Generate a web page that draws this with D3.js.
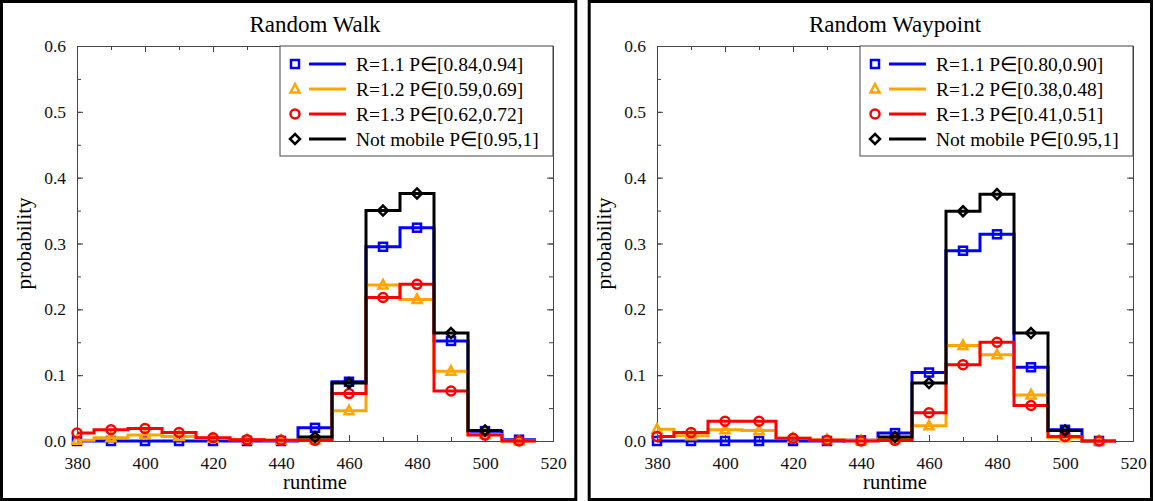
<!DOCTYPE html>
<html>
<head>
<meta charset="utf-8">
<script src="https://cdn.jsdelivr.net/npm/d3@7"></script>
<style>
  body { margin: 0; background: #fff; }
  svg { display: block; font-family: "Liberation Serif", "Times New Roman", serif; }
  .axis path, .axis line { stroke: #444; }
  .axis text { font-family: "Liberation Serif", serif; font-size: 17.5px; fill: #111; }
</style>
</head>
<body>
<svg id="chart" width="1156" height="501"></svg>
<script>
// bins (runtime), centres of 10-wide bins
const bins = [380, 390, 400, 410, 420, 430, 440, 450, 460, 470, 480, 490, 500, 510];

// Random Walk
const walk_r11 = [0, 0, 0, 0, 0, 0, 0, 0.020, 0.090, 0.295, 0.324, 0.152, 0.015, 0.002];
const walk_r12 = [0.001, 0.005, 0.009, 0.007, 0.004, 0.002, 0.001, 0.002, 0.046, 0.237, 0.215, 0.106, 0.010, 0.000];
const walk_r13 = [0.012, 0.017, 0.019, 0.013, 0.005, 0.002, 0.001, 0.001, 0.072, 0.218, 0.238, 0.076, 0.009, 0.000];
const walk_nm  = [null, null, null, null, null, null, null, 0.006, 0.088, 0.350, 0.376, 0.164, 0.016, null];

// Random Waypoint
const wayp_r11 = [0, 0, 0, 0, 0, 0, 0.001, 0.012, 0.104, 0.289, 0.314, 0.112, 0.017, 0.000];
const wayp_r12 = [0.018, 0.008, 0.017, 0.016, 0.004, 0.002, 0.001, 0.003, 0.023, 0.145, 0.131, 0.070, 0.005, 0.000];
const wayp_r13 = [0.007, 0.013, 0.030, 0.030, 0.004, 0.001, 0.000, 0.001, 0.043, 0.116, 0.150, 0.054, 0.007, 0.000];
const wayp_nm  = [null, null, null, null, null, null, null, 0.006, 0.088, 0.349, 0.375, 0.164, 0.016, null];

const walk_labels = ["R=1.1 P\u2208[0.84,0.94]", "R=1.2 P\u2208[0.59,0.69]", "R=1.3 P\u2208[0.62,0.72]", "Not mobile P\u2208[0.95,1]"];
const wayp_labels = ["R=1.1 P\u2208[0.80,0.90]", "R=1.2 P\u2208[0.38,0.48]", "R=1.3 P\u2208[0.41,0.51]", "Not mobile P\u2208[0.95,1]"];

const titles = ["Random Walk", "Random Waypoint"];
const x_ticks = [380, 400, 420, 440, 460, 480, 500, 520];
const y_ticks = [0, 0.1, 0.2, 0.3, 0.4, 0.5, 0.6];

const colors = ["#0000ff", "#ffa500", "#ff0000", "#000000"];
const symbols = ["square", "triangle", "circle", "diamond"];

const bin_width = 10;

const svg = d3.select("#chart");

const panels = [
  {frame: [1.5, 1.5, 574.3, 498], left: 77, title: titles[0], series: [walk_r11, walk_r12, walk_r13, walk_nm], labels: walk_labels, ylab: 31},
  {frame: [589.2, 1.5, 562.3, 498], left: 657, title: titles[1], series: [wayp_r11, wayp_r12, wayp_r13, wayp_nm], labels: wayp_labels, ylab: 611}
];

const plot_w = 476, plot_top = 46, plot_bottom = 441;

function marker(g, type, color, x, y) {
  if (type === "square") {
    g.append("rect").attr("x", x - 4).attr("y", y - 4).attr("width", 8).attr("height", 8)
      .attr("fill", "none").attr("stroke", color).attr("stroke-width", 2.5);
  } else if (type === "circle") {
    g.append("circle").attr("cx", x).attr("cy", y).attr("r", 4.5)
      .attr("fill", "none").attr("stroke", color).attr("stroke-width", 2.5);
  } else if (type === "triangle") {
    g.append("path").attr("d", "M" + x + "," + (y - 5) + "L" + (x + 4.5) + "," + (y + 3.5) + "L" + (x - 4.5) + "," + (y + 3.5) + "Z")
      .attr("fill", "none").attr("stroke", color).attr("stroke-width", 2.5).attr("stroke-linejoin", "miter");
  } else {
    g.append("path").attr("d", "M" + x + "," + (y - 5) + "L" + (x + 5) + "," + y + "L" + x + "," + (y + 5) + "L" + (x - 5) + "," + y + "Z")
      .attr("fill", "none").attr("stroke", color).attr("stroke-width", 2.5);
  }
}

panels.forEach(function (p, pi) {
  // outer frame
  svg.append("rect")
    .attr("x", p.frame[0]).attr("y", p.frame[1])
    .attr("width", p.frame[2]).attr("height", p.frame[3])
    .attr("fill", "none").attr("stroke", "#000").attr("stroke-width", 3);

  const x = d3.scaleLinear().domain([380, 520]).range([p.left, p.left + plot_w]);
  const y = d3.scaleLinear().domain([0, 0.6]).range([plot_bottom, plot_top]);

  const g = svg.append("g");

  // clip
  svg.append("clipPath").attr("id", "clip" + pi)
    .append("rect").attr("x", p.left).attr("y", plot_top - 10)
    .attr("width", plot_w).attr("height", plot_bottom - plot_top + 20);

  // minor ticks
  const minorX = d3.range(380, 521, 10), minorY = d3.range(0, 0.601, 0.05);
  g.append("g").attr("class", "axis").attr("transform", "translate(0," + plot_bottom + ")")
    .call(d3.axisBottom(x).tickValues(minorX).tickSizeInner(-4).tickSizeOuter(0).tickFormat(""));
  g.append("g").attr("class", "axis").attr("transform", "translate(0," + plot_top + ")")
    .call(d3.axisTop(x).tickValues(minorX).tickSizeInner(-4).tickSizeOuter(0).tickFormat(""));
  g.append("g").attr("class", "axis").attr("transform", "translate(" + p.left + ",0)")
    .call(d3.axisLeft(y).tickValues(minorY).tickSizeInner(-4).tickSizeOuter(0).tickFormat(""));
  g.append("g").attr("class", "axis").attr("transform", "translate(" + (p.left + plot_w) + ",0)")
    .call(d3.axisRight(y).tickValues(minorY).tickSizeInner(-4).tickSizeOuter(0).tickFormat(""));

  // major ticks + labels
  g.append("g").attr("class", "axis").attr("transform", "translate(0," + plot_bottom + ")")
    .call(d3.axisBottom(x).tickValues(x_ticks).tickSizeInner(-6).tickSizeOuter(0).tickPadding(16).tickFormat(d3.format("d")));
  g.append("g").attr("class", "axis").attr("transform", "translate(" + p.left + ",0)")
    .call(d3.axisLeft(y).tickValues(y_ticks).tickSizeInner(-6).tickSizeOuter(0).tickPadding(11).tickFormat(d3.format(".1f")));
  g.append("g").attr("class", "axis").attr("transform", "translate(0," + plot_top + ")")
    .call(d3.axisTop(x).tickValues(x_ticks).tickSizeInner(-6).tickSizeOuter(0).tickFormat(""));
  g.append("g").attr("class", "axis").attr("transform", "translate(" + (p.left + plot_w) + ",0)")
    .call(d3.axisRight(y).tickValues(y_ticks).tickSizeInner(-6).tickSizeOuter(0).tickFormat(""));

  // title and axis labels
  svg.append("text").attr("x", p.left + plot_w / 2).attr("y", 32)
    .attr("text-anchor", "middle").style("font-size", "23px").text(p.title);
  svg.append("text").attr("x", p.left + plot_w / 2).attr("y", 489)
    .attr("text-anchor", "middle").style("font-size", "20.5px").text("runtime");
  svg.append("text").attr("transform", "translate(" + p.ylab + "," + ((plot_top + plot_bottom) / 2) + ") rotate(-90)")
    .attr("text-anchor", "middle").style("font-size", "21px").text("probability");

  // step lines
  const line = d3.line().x(function (d) { return x(d[0]); }).y(function (d) { return y(d[1]); });

  p.series.forEach(function (vals, si) {
    const pts = [];
    bins.forEach(function (b, i) {
      if (vals[i] === null) return;
      pts.push([b - bin_width / 2, vals[i]]);
      pts.push([b + bin_width / 2, vals[i]]);
    });
    svg.append("path")
      .attr("clip-path", "url(#clip" + pi + ")")
      .attr("d", line(pts))
      .attr("fill", "none")
      .attr("stroke", colors[si])
      .attr("stroke-width", 3)
      .attr("stroke-linejoin", "miter");

    const mg = svg.append("g");
    bins.forEach(function (b, i) {
      if (vals[i] === null) return;
      marker(mg, symbols[si], colors[si], x(b), y(vals[i]));
    });
  });

  // legend
  const lw = 273, lh = 110;
  const lx = p.left + plot_w - lw;
  const leg = svg.append("g");
  leg.append("rect").attr("x", lx).attr("y", plot_top).attr("width", lw).attr("height", lh)
    .attr("fill", "#fff").attr("stroke", "#444").attr("stroke-width", 1);
  p.labels.forEach(function (lab, i) {
    const cy = plot_top + 18 + i * 25;
    marker(leg, symbols[i], colors[i], lx + 15, cy);
    leg.append("line").attr("x1", lx + 29).attr("x2", lx + 66).attr("y1", cy).attr("y2", cy)
      .attr("stroke", colors[i]).attr("stroke-width", 3);
    leg.append("text").attr("x", lx + 76).attr("y", cy + 7)
      .style("font-size", "19.5px").text(lab);
  });
});
</script>
</body>
</html>
